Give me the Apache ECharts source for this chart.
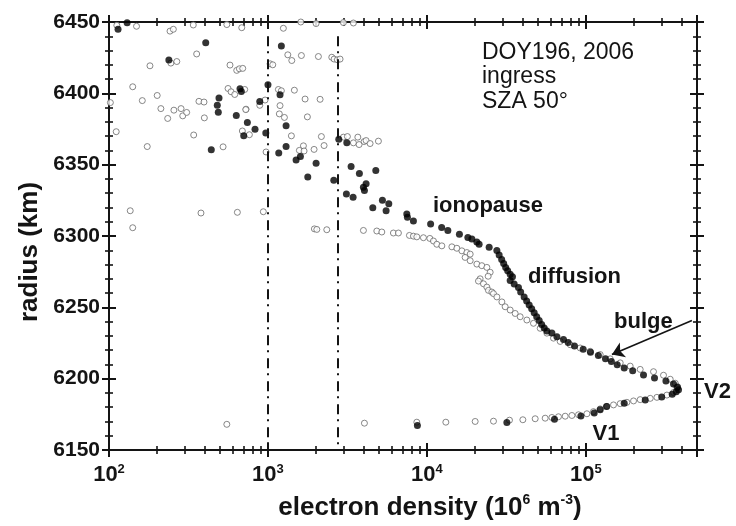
<!DOCTYPE html>
<html>
<head>
<meta charset="utf-8">
<script src="https://cdn.jsdelivr.net/npm/echarts@6/dist/echarts.min.js"></script>
<style>
html,body{margin:0;padding:0;background:#fff;}
#chart{width:736px;height:526px;}
</style>
</head>
<body>
<div id="chart"></div>
<script>
// ---- data ----
// filled circles: electron density (1e6 m^-3) and radius (km)
var filledDensity = [114,130,406,238,492,480,487,632,667,680,742,704,440,1214,1000,1191,888,829,969,1300,1300,1169,1600,1503,2008,1780,2595,2790,3133,3334,3760,4769,4143,3985,4044,3115,3432,4565,5248,5757,5536,7470,7540,8222,10550,12380,13540,16010,18090,19170,20600,21300,24630,27540,28470,29520,30390,31290,32210,33400,34520,33400,35390,37660,38880,40890,42400,43980,45600,47280,49030,50830,52700,54660,56830,61100,65700,72300,77380,84760,96160,106900,119800,132800,144700,157400,174200,197000,230400,270200,318800,355800,377000,382600,370100,349200,299900,236200,174200,134800,123000,112800,93000,63460,31830,8711];
var filledRadius = [6445,6449.5,6435.5,6423.3,6396.7,6391.6,6386.8,6384.5,6403.2,6401.3,6379.6,6370.2,6360.5,6433.2,6406,6399,6394.2,6374.8,6372.2,6377.3,6362.7,6358.2,6355.8,6353.3,6351,6341.3,6339,6367.9,6365.3,6348.7,6343.8,6345.9,6336.7,6334.1,6331.9,6329.5,6327.2,6319.8,6325,6322.6,6317.7,6315.5,6313.2,6310.6,6308.4,6305.9,6303.9,6301.3,6299,6297.9,6295.8,6294.2,6292.2,6289.8,6286.7,6283.6,6280.8,6278,6275.6,6273.2,6271.5,6268.8,6266.3,6263.9,6260.7,6257.3,6254.5,6251.7,6249,6246.2,6243.4,6240.7,6237.9,6235.5,6233.4,6232,6229.4,6227.5,6225.4,6222.9,6220.6,6218.5,6216.2,6214,6212.1,6209.8,6207.4,6205.5,6202.6,6200.5,6198.4,6196.2,6194.1,6192.2,6190.8,6189.1,6187.2,6185,6182.7,6180.5,6178.3,6176,6173.9,6171.6,6169.3,6167.2];
// open circles
var openDensity = [112,149,242,254,339,551,684,1250,2008,1609,2982,3447,181,245,267,356,577,636,661,694,141,201,162,212,234,256,284,291,308,368,396,398,341,561,586,618,714,728,690,764,174,522,111,102,1333,1412,1623,2076,2520,2606,2734,2842,1031,1072,1163,1214,1466,1712,2128,959,888,725,1191,1179,1269,1770,1404,2168,2254,1671,1576,1687,1950,973,2982,3160,3447,3675,3744,4026,4143,4390,4952,136,141,379,642,935,1959,2029,2344,3985,4838,5202,6154,6616,7761,8222,8637,9506,10430,10990,11540,12410,14350,15430,16590,17830,18710,17390,18710,20610,22150,23820,24990,24280,21610,21100,22680,23820,24380,25610,26220,27540,29610,31060,33400,35910,38600,42530,46800,51580,56830,62540,68900,79660,92070,106400,123000,142200,164400,190000,219600,266300,307800,339300,364800,373800,355800,323300,279800,254000,219600,199400,181100,164400,149200,135600,123000,111600,101500,89830,81650,74100,67230,61100,55450,47970,40130,33060,26220,20110,13150,8637,4044,551];
var openRadius = [6447.7,6447,6443.6,6444.9,6447.9,6448.2,6446,6445.6,6448.9,6450,6449.6,6449.3,6419.3,6421.2,6422.3,6427.6,6419.8,6416.1,6417.2,6417.5,6404.6,6398.5,6394.9,6389.3,6382.4,6388.2,6389.3,6384.2,6386.6,6394.4,6393.9,6382.8,6370.8,6403.4,6401.1,6399.2,6402.7,6388.9,6373.6,6371,6362.7,6362.5,6373.1,6393.5,6427,6423,6426.5,6425.8,6425.3,6424,6423.5,6424,6420.7,6420,6402.7,6401.8,6402.2,6396,6395.8,6395.3,6391.6,6388.6,6391.4,6385.6,6383.1,6383.5,6370.2,6369.7,6363.4,6363.2,6360,6359.6,6360.7,6358.9,6369.3,6369.7,6365.3,6369.3,6364.1,6366.2,6366.9,6364.8,6366.5,6317.7,6305.8,6316.1,6316.6,6317,6305,6304.6,6304.4,6303.9,6303.5,6302.8,6302.1,6302.1,6300.4,6299.9,6299.4,6298.8,6298.3,6296.5,6294.2,6293.1,6292.4,6291.4,6289.6,6288.4,6287.3,6285,6282.7,6280.3,6279.2,6278,6274.6,6271.8,6270,6268.4,6266.5,6264.2,6261.9,6260.7,6259.6,6257.3,6253.8,6250.4,6248.1,6245.7,6243.4,6241.1,6238.8,6235.3,6231.9,6228.4,6226.1,6223.8,6221.5,6219.2,6216.9,6213.9,6211.1,6208.8,6206.5,6204.9,6202.4,6199.6,6196.8,6193.8,6190.3,6188.5,6186.9,6186.2,6185.3,6184.4,6183.4,6182.5,6181.6,6180.6,6178.8,6176.9,6175.4,6174.7,6174.2,6173.7,6173.3,6172.8,6172.3,6171.9,6171.2,6170.9,6170.2,6170,6169.5,6169.5,6168.8,6168];
// reference lines (density) and arrow annotation
var verticalLines = [1000, 2735];
var arrowFrom = [464500, 6240.7];
var arrowTo = [145800, 6216.9];
// axes
var xMin = 100, xMax = 500000;
var yMin = 6150, yMax = 6450, yStep = 50;
var xMajorTicks = [100, 1000, 10000, 100000];
var xMinorTicks = [200,300,400,500,600,700,800,900,2000,3000,4000,5000,6000,7000,8000,9000,20000,30000,40000,50000,60000,70000,80000,90000,200000,300000,400000,500000];
var infoText = ['DOY196, 2006', 'ingress', 'SZA 50\u00b0'];

// ---- chart ----
var FONT = '"Liberation Sans", Arial, sans-serif';
var INK = '#141414';
var chart = echarts.init(document.getElementById('chart'), null, {renderer: 'canvas'});

function pairs(xs, ys) { return xs.map(function (x, i) { return [x, ys[i]]; }); }
var lgMin = Math.log10(xMin), lgMax = Math.log10(xMax);
var majorLogs = xMajorTicks.map(Math.log10);
var minorLogs = xMinorTicks.map(Math.log10);

function helperX(pos, inside, len, values, width) {
  return {
    type: 'value', position: pos, min: lgMin, max: lgMax,
    axisLine: {show: false}, axisLabel: {show: false}, splitLine: {show: false},
    axisTick: {show: true, inside: inside, length: len, customValues: values, lineStyle: {color: INK, width: width}}
  };
}
function yAx(pos, inside, main) {
  return {
    type: 'value', position: pos, min: yMin, max: yMax, interval: yStep,
    axisLine: {show: true, lineStyle: {color: INK, width: 2}},
    axisTick: {show: true, inside: inside, length: 7, lineStyle: {color: INK, width: 2}},
    minorTick: {show: true, splitNumber: 5, length: 4, lineStyle: {color: INK, width: 1.6}},
    splitLine: {show: false},
    axisLabel: main ? {show: true, margin: 9, color: INK, fontSize: 21, fontWeight: 'bold', fontFamily: FONT,
      formatter: function (v) { return String(v); }} : {show: false},
    name: main ? 'radius (km)' : '',
    nameLocation: 'middle', nameGap: 62,
    nameTextStyle: {color: INK, fontSize: 26, fontWeight: 'bold', fontFamily: FONT, padding: [0, 32, 0, 0]}
  };
}

var option = {
  animation: false,
  backgroundColor: '#fff',
  grid: {left: 109, right: 39, top: 22, bottom: 71, containLabel: false},
  xAxis: [
    {
      type: 'log', logBase: 10, min: xMin, max: xMax, position: 'bottom',
      axisLine: {show: true, lineStyle: {color: INK, width: 2}},
      axisTick: {show: true, inside: false, length: 7, lineStyle: {color: INK, width: 2}},
      splitLine: {show: false}, minorTick: {show: false},
      axisLabel: {
        show: true, margin: 13, color: INK,
        formatter: function (v) {
          var e = Math.log10(v), r = Math.round(e);
          if (Math.abs(e - r) > 1e-6) return '';
          return '{b|10}{s|' + r + '}';
        },
        rich: {
          b: {fontSize: 22, fontWeight: 'bold', fontFamily: FONT, color: INK, lineHeight: 24},
          s: {fontSize: 13, fontWeight: 'bold', fontFamily: FONT, color: INK, lineHeight: 13, verticalAlign: 'top'}
        }
      },
      name: '{b|electron density (10}{s|6}{b| m}{s|-3}{b|)}',
      nameLocation: 'middle', nameGap: 43,
      nameTextStyle: {
        padding: [0, 0, 0, 54],
        rich: {
          b: {fontSize: 26, fontWeight: 'bold', fontFamily: FONT, color: INK, lineHeight: 30},
          s: {fontSize: 14, fontWeight: 'bold', fontFamily: FONT, color: INK, lineHeight: 14, verticalAlign: 'top'}
        }
      }
    },
    helperX('bottom', true, 7, majorLogs, 2),
    helperX('bottom', false, 4, minorLogs, 1.6),
    helperX('bottom', true, 4, minorLogs, 1.6),
    {
      type: 'log', logBase: 10, min: xMin, max: xMax, position: 'top',
      axisLine: {show: true, lineStyle: {color: INK, width: 2}},
      axisTick: {show: true, inside: false, length: 7, lineStyle: {color: INK, width: 2}},
      splitLine: {show: false}, axisLabel: {show: false}
    },
    helperX('top', true, 7, majorLogs, 2),
    helperX('top', false, 4, minorLogs, 1.6),
    helperX('top', true, 4, minorLogs, 1.6)
  ],
  yAxis: [
    yAx('left', false, true),
    yAx('left', true, false),
    yAx('right', false, false),
    yAx('right', true, false)
  ],
  graphic: [
    {type: 'text', left: 482, top: 40, style: {text: infoText.join('\n'), font: '23px ' + FONT, lineHeight: 24.5, fill: INK}},
    {type: 'text', left: 433, top: 195, style: {text: 'ionopause', font: 'bold 22px ' + FONT, fill: INK}},
    {type: 'text', left: 528, top: 266, style: {text: 'diffusion', font: 'bold 22px ' + FONT, fill: INK}},
    {type: 'text', left: 614, top: 310.5, style: {text: 'bulge', font: 'bold 22px ' + FONT, fill: INK}},
    {type: 'text', left: 704, top: 381, style: {text: 'V2', font: 'bold 22px ' + FONT, fill: INK}},
    {type: 'text', left: 592.5, top: 422.5, style: {text: 'V1', font: 'bold 22px ' + FONT, fill: INK}}
  ],
  series: [
    {
      type: 'scatter', name: 'open', xAxisIndex: 0, yAxisIndex: 0,
      data: pairs(openDensity, openRadius),
      symbol: 'circle', symbolSize: 6,
      itemStyle: {color: '#ffffff', borderColor: '#6a6a6a', borderWidth: 1},
      clip: false, silent: true,
      markLine: {
        silent: true, symbol: ['none', 'none'], label: {show: false},
        lineStyle: {color: INK, width: 2, type: [10, 5, 2, 6]},
        data: verticalLines.map(function (v) { return [{coord: [v, 6440]}, {coord: [v, yMin]}]; })
      }
    },
    {
      type: 'scatter', name: 'filled', xAxisIndex: 0, yAxisIndex: 0,
      data: pairs(filledDensity, filledRadius),
      symbol: 'circle', symbolSize: 7,
      itemStyle: {color: '#000000', borderWidth: 0},
      clip: false, silent: true,
      markLine: {
        silent: true, label: {show: false},
        symbol: ['none', 'arrow'], symbolSize: 12,
        lineStyle: {color: INK, width: 1.6, type: 'solid'},
        data: [[{coord: arrowFrom}, {coord: arrowTo}]]
      }
    }
  ]
};
chart.setOption(option);
</script>
</body>
</html>
